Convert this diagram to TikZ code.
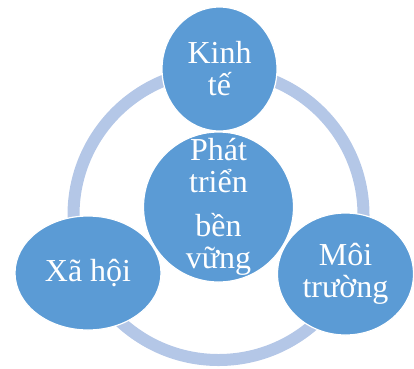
\documentclass[tikz,border=0pt]{standalone}
\usepackage{fontspec}
\setmainfont{Liberation Serif}
\usepackage{xcolor}
\usepackage{tikz}
\usetikzlibrary{shapes.geometric}

\definecolor{bubbleblue}{HTML}{5B9BD5}
\definecolor{ringblue}{HTML}{B4C7E7}

\begin{document}
\begin{tikzpicture}[
        x=1pt, y=-1pt,
        bubbletext/.style={text=white, align=center, inner sep=0pt, font=\fontsize{32}{32}\selectfont},
        bubble/.style={ellipse, draw=white, line width=1.2pt, fill=bubbleblue, bubbletext},
        ring/.style={draw=ringblue, line width=12pt},
    ]
        \useasboundingbox (0,0) rectangle (414,368);

        % Outer ring
        \coordinate (ringc) at (218.5,215);
        \draw[ring] (ringc) circle[radius=145];

        % Pillars
        \node[bubble, minimum width=115pt, minimum height=124pt] (kinhte) at (219.5,69) {Kinh\\tế};
        \node[bubble, minimum width=146pt, minimum height=114pt] (xahoi) at (88,273) {Xã hội};
        \node[bubble, minimum width=136pt, minimum height=122pt] (moitruong) at (345.5,274) {Môi\\trường};

        % Centre
        \node[bubble, minimum width=150pt, minimum height=150pt,
            label={[bubbletext, name=ptbvtext]center:Phát\\triển\\[12pt]bền\\vững}] (ptbv) at (218.5,207) {};
    \end{tikzpicture}
\end{document}
